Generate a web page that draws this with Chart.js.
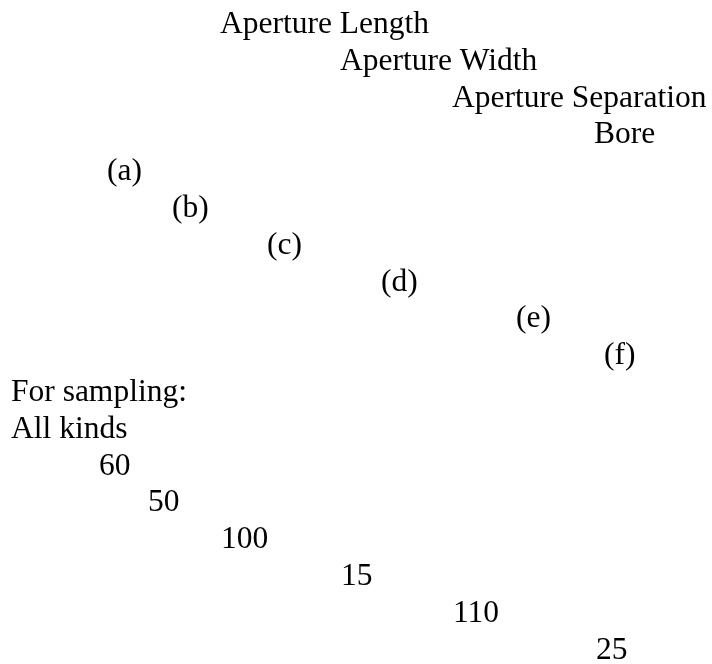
<!DOCTYPE html>
<html>
<head>
<meta charset="utf-8">
<script src="https://cdn.jsdelivr.net/npm/chart.js@4.4.1/dist/chart.umd.min.js"></script>
<style>
  html, body { margin: 0; padding: 0; background: #fff; }
  #wrap { width: 712px; height: 664px; }
</style>
</head>
<body>
<div id="wrap"><canvas id="myChart" width="712" height="664"></canvas></div>
<script>
  // chart content
  var parameters = ["Aperture Length", "Aperture Width", "Aperture Separation", "Bore"];
  var panels = ["(a)", "(b)", "(c)", "(d)", "(e)", "(f)"];
  var samplingTitle = ["For sampling:", "All kinds"];
  var sampleValues = [60, 50, 100, 15, 110, 25];

  // horizontal offset of each row (staircase layout), one per text line
  var parameterX = [220, 340, 452, 594];
  var panelX = [107, 172, 267, 381, 516, 604];
  var titleX = [11, 11];
  var valueX = [99, 148, 221, 341, 453, 596];

  var texts = [].concat(parameters, panels, samplingTitle, sampleValues.map(String));
  var xs = [].concat(parameterX, panelX, titleX, valueX);
  var points = texts.map(function (t, i) { return { x: xs[i], y: i, text: t }; });

  var textPlugin = {
    id: "rowText",
    afterDatasetsDraw: function (chart) {
      var ctx = chart.ctx;
      var meta = chart.getDatasetMeta(0);
      ctx.save();
      ctx.fillStyle = "#000";
      ctx.font = "31.5px 'Liberation Serif', 'Times New Roman', serif";
      ctx.textAlign = "left";
      ctx.textBaseline = "alphabetic";
      meta.data.forEach(function (pt, i) {
        ctx.fillText(points[i].text, pt.x, pt.y);
      });
      ctx.restore();
    }
  };

  var rowGap = 36.8;
  var yMin = -33 / rowGap;
  var yMax = yMin + 664 / rowGap;

  var ctx = document.getElementById("myChart");
  var myChart = new Chart(ctx, {
    type: "scatter",
    data: {
      datasets: [
        {
          label: "rows",
          data: points,
          pointRadius: 0,
          pointHoverRadius: 0
        }
      ]
    },
    options: {
      responsive: false,
      animation: false,
      layout: { padding: 0 },
      plugins: { legend: { display: false }, tooltip: { enabled: false } },
      scales: {
        x: { type: "linear", min: 0, max: 712, display: false },
        y: { type: "linear", min: yMin, max: yMax, reverse: true, display: false }
      }
    },
    plugins: [textPlugin]
  });
</script>
</body>
</html>
